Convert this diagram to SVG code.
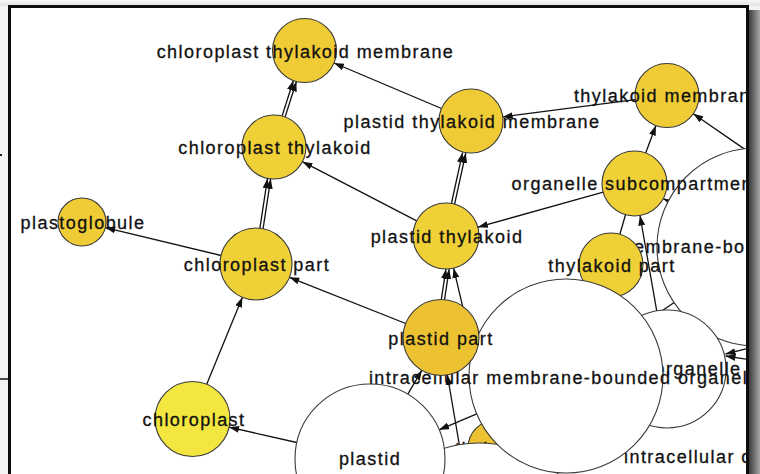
<svg xmlns="http://www.w3.org/2000/svg" width="760" height="474" viewBox="0 0 760 474">
  <defs>
    <style>
      .edge { stroke: #111; stroke-width: 1.3; fill: none; }
      .arr { marker-end: url(#head); }
      .node { stroke: #3a3a3a; stroke-width: 1.1; }
      .blank { fill: #fff; }
      .y1 { fill: #efcc35; }
      .y2 { fill: #efd036; }
      .y3 { fill: #ecc232; }
      .y4 { fill: #f3e640; }
      .lbl { font-family: "Liberation Sans", Arial, sans-serif; font-size: 18px; letter-spacing: 1.45px; fill: #111; stroke: #111; stroke-width: 0.3; text-anchor: middle; }
      .start { text-anchor: start; }
    </style>
    <marker id="head" markerUnits="userSpaceOnUse" markerWidth="11" markerHeight="7" refX="10" refY="3.5" orient="auto">
      <path d="M0,0 L10,3.5 L0,7 z" fill="#111"/>
    </marker>
    <linearGradient id="shade" x1="0" y1="0" x2="1" y2="0">
      <stop offset="0" stop-color="#3c3c3c"/>
      <stop offset="1" stop-color="#a8a8a8"/>
    </linearGradient>
    <linearGradient id="topshade" x1="0" y1="0" x2="0" y2="1">
      <stop offset="0" stop-color="#f6f6f6"/>
      <stop offset="1" stop-color="#e2e2e2"/>
    </linearGradient>
    <clipPath id="view">
      <rect x="11" y="8" width="735" height="466"/>
    </clipPath>
  </defs>

  <!-- surroundings of the panel -->
  <rect x="0" y="0" width="760" height="474" fill="#f3f3f3"/>
  <rect x="0" y="0" width="760" height="6" fill="url(#topshade)"/>
  <rect x="749" y="10" width="11" height="464" fill="url(#shade)"/>
  <rect x="0" y="154" width="2" height="2" fill="#222"/>
  <line x1="0" y1="379" x2="9" y2="379" stroke="#111" stroke-width="1.5"/>

  <!-- panel frame -->
  <rect x="9.5" y="6.5" width="738" height="480" fill="#fff" stroke="#0d0d0d" stroke-width="3"/>

  <g clip-path="url(#view)">
    <g id="edges">
      <line class="edge arr" x1="441.5" y1="108.5" x2="334" y2="63"/>
      <line class="edge arr" x1="285.1" y1="117" x2="296.4" y2="81.5"/>
      <line class="edge arr" x1="282.1" y1="116" x2="293.4" y2="80.5"/>
      <line class="edge arr" x1="416.7" y1="220.8" x2="302.4" y2="161.7"/>
      <line class="edge arr" x1="263.1" y1="228.6" x2="270.7" y2="178.8"/>
      <line class="edge arr" x1="259.9" y1="228.2" x2="267.5" y2="178.4"/>
      <line class="edge arr" x1="221" y1="255.5" x2="105.3" y2="227.6"/>
      <line class="edge arr" x1="206.7" y1="384.3" x2="242.4" y2="297.3"/>
      <line class="edge arr" x1="405.7" y1="323.5" x2="289.4" y2="277.3"/>
      <line class="edge arr" x1="296.8" y1="442.5" x2="229.1" y2="427.2"/>
      <line class="edge arr" x1="444.5" y1="299.6" x2="449.2" y2="269.1"/>
      <line class="edge arr" x1="441.3" y1="299.4" x2="446" y2="268.9"/>
      <line class="edge arr" x1="496" y1="448" x2="453.6" y2="268.1"/>
      <line class="edge arr" x1="454.6" y1="204.1" x2="465.8" y2="153"/>
      <line class="edge arr" x1="451.4" y1="203.5" x2="462.6" y2="152.4"/>
      <line class="edge arr" x1="635.3" y1="99.6" x2="502.7" y2="116.9"/>
      <line class="edge arr" x1="645.7" y1="153" x2="655.9" y2="125.5"/>
      <line class="edge arr" x1="603.2" y1="192.2" x2="477.8" y2="227.2"/>
      <line class="edge arr" x1="767.3" y1="164.9" x2="693.3" y2="113.7"/>
      <line class="edge arr" x1="756" y1="247" x2="663.3" y2="198.6"/>
      <line class="edge arr" x1="656.9" y1="311.9" x2="640" y2="215.5"/>
      <line class="edge" x1="625.5" y1="214.7" x2="619.9" y2="234.2"/>
      <line class="edge" x1="566" y1="376" x2="756" y2="247"/>
      <line class="edge arr" x1="765" y1="344" x2="725.5" y2="354"/>
      <line class="edge arr" x1="765" y1="362" x2="725.5" y2="356"/>
      <line class="edge arr" x1="407.8" y1="394.2" x2="421.8" y2="370.3"/>
      <line class="edge arr" x1="476.7" y1="413.8" x2="439.1" y2="429.8"/>
      <line class="edge arr" x1="479" y1="560" x2="447.4" y2="375"/>
    </g>

    <g id="membrane-bounded-organelle">
      <circle class="node blank" cx="756" cy="247" r="99"/>
      <text class="lbl" x="757" y="253">membrane-bounded organelle</text>
    </g>
    <g id="organelle">
      <circle class="node blank" cx="667" cy="369" r="59"/>
      <text class="lbl" x="698" y="375">organelle</text>
    </g>
    <g id="intracellular-organelle">
      <text class="lbl start" x="624" y="463">intracellular organelle</text>
    </g>
    <g id="thylakoid">
      <circle class="node y3" cx="496" cy="448" r="28"/>
      <text class="lbl" x="497" y="455">thylakoid</text>
    </g>
    <g id="lower-node">
      <circle class="node blank" cx="479" cy="560" r="117"/>
    </g>
    <g id="thylakoid-part">
      <circle class="node y2" cx="611" cy="265" r="32"/>
      <text class="lbl" x="612" y="272">thylakoid part</text>
    </g>
    <g id="intracellular-membrane-bounded-organelle">
      <circle class="node blank" cx="566" cy="376" r="97"/>
      <text class="lbl" x="567" y="384">intracellular membrane-bounded organelle</text>
    </g>
    <g id="plastid">
      <circle class="node blank" cx="370" cy="459" r="75"/>
      <text class="lbl" x="370" y="465">plastid</text>
    </g>
    <g id="plastid-part">
      <circle class="node y3" cx="441" cy="337.5" r="38"/>
      <text class="lbl" x="441" y="345">plastid part</text>
    </g>
    <g id="chloroplast">
      <circle class="node y4" cx="192.5" cy="419" r="37.5"/>
      <text class="lbl" x="194" y="426">chloroplast</text>
    </g>
    <g id="chloroplast-part">
      <circle class="node y2" cx="256" cy="264" r="36"/>
      <text class="lbl" x="257" y="270.5">chloroplast part</text>
    </g>
    <g id="plastoglobule">
      <circle class="node y1" cx="82" cy="222" r="24"/>
      <text class="lbl" x="83" y="229">plastoglobule</text>
    </g>
    <g id="chloroplast-thylakoid">
      <circle class="node y2" cx="274" cy="147" r="32"/>
      <text class="lbl" x="275" y="154">chloroplast thylakoid</text>
    </g>
    <g id="chloroplast-thylakoid-membrane">
      <circle class="node y1" cx="304.5" cy="50.5" r="32"/>
      <text class="lbl" x="305.5" y="57.5">chloroplast thylakoid membrane</text>
    </g>
    <g id="plastid-thylakoid">
      <circle class="node y2" cx="446" cy="236" r="33"/>
      <text class="lbl" x="447" y="243">plastid thylakoid</text>
    </g>
    <g id="plastid-thylakoid-membrane">
      <circle class="node y1" cx="471" cy="121" r="32"/>
      <text class="lbl" x="472" y="128">plastid thylakoid membrane</text>
    </g>
    <g id="thylakoid-membrane">
      <circle class="node y1" cx="667" cy="95.5" r="32"/>
      <text class="lbl" x="668" y="102">thylakoid membrane</text>
    </g>
    <g id="organelle-subcompartment">
      <circle class="node y2" cx="634.5" cy="183.5" r="32.5"/>
      <text class="lbl" x="635.5" y="190">organelle subcompartment</text>
    </g>
  </g>
</svg>
